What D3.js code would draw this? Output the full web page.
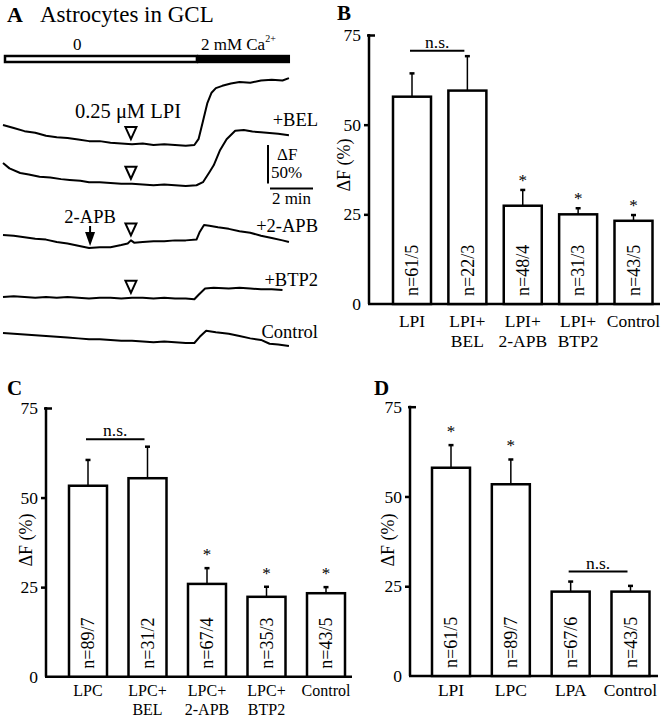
<!DOCTYPE html>
<html lang="en">
<head>
<meta charset="UTF-8">
<title>LPI astrocytes GCL</title>
<style>
  body { margin: 0; background: #fff; }
  svg text { font-family: "Liberation Serif", "DejaVu Serif", serif; }
</style>
</head>
<body>

<div id="viz-wrapper"></div>

<script src="https://cdn.jsdelivr.net/npm/d3@7/dist/d3.min.js"></script>
<script type="text/javascript">
// ---------- panel A: traces, time in min, dF in % relative to trace start
var lpiT = [0,0.5,1,1.5,2,2.5,3,3.5,4,4.5,5,5.5,6,6.5,7,7.5,8,8.5,8.9,9.1,9.3,9.5,9.7,9.9,10.2,10.6,11,11.5,12,12.5,13,13.3];
var lpiV = [0,-4,-8,-10,-14,-16,-17,-19,-21,-21,-23,-24,-25,-24,-26,-25,-26,-27,-26,-18,5,28,42,48,51,54,56,55,58,59,58,61];

var belT = [0,0.3,0.8,1.2,1.7,2.2,2.7,3.1,3.6,4,4.5,5,5.5,6,6.5,7,7.5,8,8.5,9,9.3,9.6,9.8,10.1,10.4,10.8,11.2,11.6,12,12.4,12.8,13.3];
var belV = [0,-7,-13,-15,-18,-19,-21,-22,-23,-25,-25,-26,-27,-27,-28,-29,-28,-29,-30,-29,-25,-12,-3,17,31,42,43,41,40,39,38,36];

var apbT = [0,0.5,1,1.5,2,2.5,3,3.5,4,4.5,5,5.5,5.8,5.95,6.1,6.5,7,7.5,8,8.5,9,9.15,9.35,9.6,10,10.5,11,11.5,12,12.5,13,13.3];
var apbV = [0,-1,-3,-5,-6,-9,-11,-14,-17,-16,-16,-13,-11,-7,-10,-9,-8,-8,-7,-7,-6,4,13,12,10,8,5,3,-1,-4,-7,-9];

var btpT = [0,0.5,1,1.5,2,2.5,3,3.5,4,4.5,5,5.5,6,6.5,7,7.5,8,8.5,8.9,9.1,9.4,9.8,10.5,11,11.5,12,12.5,13];
var btpV = [0,1,0,-1,0,-1,0,-1,-2,-1,-1,-2,-1,-1,-2,-1,-2,-2,-3,3,11,12,11,12,11,10,10,9];

var ctlT = [0,0.5,1,1.5,2,2.5,3,3.5,4,4.5,5,5.5,6,6.5,7,7.5,8,8.5,8.9,9.15,9.45,9.9,10.5,11,11.5,12,12.4,12.8,13.3];
var ctlV = [0,-1,-2,-3,-4,-5,-6,-7,-8,-8,-9,-10,-10,-11,-12,-11,-12,-13,-13,-5,3,1,-1,-4,-7,-9,-14,-15,-17];

var traceLabels = ["", "+BEL", "+2-APB", "+BTP2", "Control"];
var lpiMarkT = 5.95;     // 0.25 uM LPI applied
var apbArrowT = 4.05;    // 2-APB applied
var caSwitchT = 9.02;    // 0 -> 2 mM Ca2+
var recordEndT = 13.35;

// ---------- panel B
var catsB = [["LPI"], ["LPI+", "BEL"], ["LPI+", "2-APB"], ["LPI+", "BTP2"], ["Control"]];
var meanB = [57.8, 59.5, 27.4, 25.0, 23.2];
var semB  = [6.5, 9.6, 4.4, 1.7, 1.6];
var nB    = ["n=61/5", "n=22/3", "n=48/4", "n=31/3", "n=43/5"];
var starB = [false, false, true, true, true];

// ---------- panel C
var catsC = [["LPC"], ["LPC+", "BEL"], ["LPC+", "2-APB"], ["LPC+", "BTP2"], ["Control"]];
var meanC = [53.3, 55.4, 25.9, 22.3, 23.3];
var semC  = [7.2, 8.8, 4.4, 2.8, 1.7];
var nC    = ["n=89/7", "n=31/2", "n=67/4", "n=35/3", "n=43/5"];
var starC = [false, false, true, true, true];

// ---------- panel D
var catsD = [["LPI"], ["LPC"], ["LPA"], ["Control"]];
var meanD = [58.0, 53.4, 23.5, 23.5];
var semD  = [6.3, 6.9, 2.8, 1.6];
var nD    = ["n=61/5", "n=89/7", "n=67/6", "n=43/5"];
var starD = [true, true, false, false];

var yTicks = [0, 25, 50, 75];

var svg = d3.select("#viz-wrapper").append("svg")
    .attr("width", 666)
    .attr("height", 720);

// ================= panel A =================
var xA = d3.scaleLinear().domain([0, 13.3]).range([3, 288.95]);
var dyA = d3.scaleLinear().domain([0, 50]).range([0, -38.4]);
var traceBase = [125, 163, 235, 297, 333];
var traces = [[lpiT, lpiV], [belT, belV], [apbT, apbV], [btpT, btpV], [ctlT, ctlV]];

svg.append("text").attr("x", 7).attr("y", 22)
    .style("font-size", "22px").style("font-weight", "bold").text("A");
svg.append("text").attr("x", 40).attr("y", 22)
    .style("font-size", "23px").text("Astrocytes in GCL");

// solution bar
svg.append("rect")
    .attr("x", xA(0) + 2).attr("y", 56)
    .attr("width", xA(caSwitchT) - xA(0) - 2).attr("height", 6)
    .attr("fill", "#fff").attr("stroke", "#000").attr("stroke-width", 2.5);
svg.append("rect")
    .attr("x", xA(caSwitchT)).attr("y", 54.8)
    .attr("width", xA(recordEndT) - xA(caSwitchT)).attr("height", 8.4)
    .attr("fill", "#000");
svg.append("text").attr("x", xA(3.45)).attr("y", 50).attr("text-anchor", "middle")
    .style("font-size", "17px").text("0");
var caText = svg.append("text").attr("x", xA(caSwitchT) + 4).attr("y", 50)
    .style("font-size", "17px").text("2 mM Ca");
caText.append("tspan").attr("dy", -8).style("font-size", "10px").text("2+");

var line = d3.line()
    .x(function(d) { return xA(d[0]); })
    .y(function(d) { return dyA(d[1]); });

function valueAt(T, V, t) {
    var i = d3.bisectLeft(T, t);
    if (i <= 0) return V[0];
    if (i >= T.length) return V[V.length - 1];
    var f = (t - T[i - 1]) / (T[i] - T[i - 1]);
    return V[i - 1] + f * (V[i] - V[i - 1]);
}

traces.forEach(function(tr, i) {
    var g = svg.append("g").attr("transform", "translate(0," + traceBase[i] + ")");
    var pts = tr[0].map(function(t, k) { return [t, tr[1][k]]; });
    g.append("path").datum(pts)
        .attr("d", line)
        .attr("fill", "none")
        .attr("stroke", "#000")
        .attr("stroke-width", 2)
        .attr("stroke-linejoin", "round");

    // LPI application marker
    if (i < 4) {
        var cx = xA(lpiMarkT);
        var tip = dyA(valueAt(tr[0], tr[1], lpiMarkT)) - 5;
        g.append("path")
            .attr("d", "M" + (cx - 5.5) + "," + (tip - 12) + "L" + (cx + 5.5) + "," + (tip - 12) + "L" + cx + "," + tip + "Z")
            .attr("fill", "#fff").attr("stroke", "#000").attr("stroke-width", 2);
    }
});

// trace labels
var labelY = [0, 126, 232, 286, 338];
traceLabels.forEach(function(l, i) {
    if (!l) return;
    svg.append("text").attr("x", 318).attr("y", labelY[i]).attr("text-anchor", "end")
        .style("font-size", "18.5px").text(l);
});
svg.append("text").attr("x", xA(lpiMarkT) - 3).attr("y", 118).attr("text-anchor", "middle")
    .style("font-size", "20.5px").text("0.25 \u03bcM LPI");

// 2-APB arrow
var ax = xA(apbArrowT);
var arrowTip = traceBase[2] + dyA(valueAt(apbT, apbV, apbArrowT)) - 2;
svg.append("text").attr("x", ax).attr("y", 223).attr("text-anchor", "middle")
    .style("font-size", "18.5px").text("2-APB");
svg.append("line").attr("x1", ax).attr("x2", ax).attr("y1", 226).attr("y2", arrowTip - 8)
    .attr("stroke", "#000").attr("stroke-width", 2);
svg.append("path")
    .attr("d", "M" + (ax - 5) + "," + (arrowTip - 14) + "L" + (ax + 5) + "," + (arrowTip - 14) + "L" + ax + "," + arrowTip + "Z")
    .attr("fill", "#000");

// scale bars
var sbX = 268, sbY = 145;
svg.append("line").attr("x1", sbX).attr("x2", sbX)
    .attr("y1", sbY).attr("y2", sbY - dyA(50))
    .attr("stroke", "#000").attr("stroke-width", 2);
svg.append("line").attr("x1", sbX + 2).attr("x2", sbX + 2 + xA(2) - xA(0))
    .attr("y1", 188.5).attr("y2", 188.5)
    .attr("stroke", "#000").attr("stroke-width", 2);
svg.append("text").attr("x", 277).attr("y", 160).style("font-size", "17px").text("\u0394F");
svg.append("text").attr("x", 271).attr("y", 178).style("font-size", "17px").text("50%");
svg.append("text").attr("x", sbX + 2 + (xA(2) - xA(0)) / 2).attr("y", 204)
    .attr("text-anchor", "middle").style("font-size", "17px").text("2 min");

// ================= bar panels =================
function barPanel(cfg) {
    var y = d3.scaleLinear().domain([0, 75]).range([cfg.y0, cfg.y75]);
    var x = d3.scalePoint().domain(d3.range(cfg.means.length)).range(cfg.xr);
    var bw = 38;
    var g = svg.append("g");

    g.append("text").attr("x", cfg.letter[1]).attr("y", cfg.letter[2])
        .style("font-size", "21px").style("font-weight", "bold").text(cfg.letter[0]);

    // y axis
    var yAxis = d3.axisLeft(y).tickValues(yTicks).tickSize(5).tickPadding(3).tickSizeOuter(0);
    var ya = g.append("g").attr("transform", "translate(" + cfg.ax + ",0)").call(yAxis);
    ya.select(".domain").remove();
    ya.selectAll(".tick line").attr("stroke-width", 2.5);
    ya.selectAll(".tick text").style("font-size", "17.5px").attr("fill", "#000");
    ya.selectAll(".tick").filter(function(d) { return d === 75; })
        .select("line").attr("x1", 6).attr("x2", -2);
    ya.selectAll(".tick").filter(function(d) { return d === 0; }).select("line").remove();
    g.append("line").attr("x1", cfg.ax).attr("x2", cfg.ax)
        .attr("y1", y(75) - 1).attr("y2", y(0))
        .attr("stroke", "#000").attr("stroke-width", 2.5);
    g.append("line").attr("x1", cfg.ax - 1).attr("x2", cfg.xEnd)
        .attr("y1", y(0)).attr("y2", y(0))
        .attr("stroke", "#000").attr("stroke-width", 2.5);

    g.append("text")
        .attr("transform", "translate(" + cfg.lab[0] + "," + cfg.lab[1] + ") rotate(-90)")
        .attr("text-anchor", "middle").attr("dy", "0.35em")
        .style("font-size", "18px").text("\u0394F (%)");

    var bars = g.selectAll("g.bar").data(cfg.means).enter().append("g").attr("class", "bar");

    // error bars
    bars.append("line")
        .attr("x1", function(d, i) { return x(i); })
        .attr("x2", function(d, i) { return x(i); })
        .attr("y1", function(d) { return y(d); })
        .attr("y2", function(d, i) { return y(d + cfg.sem[i]); })
        .attr("stroke", "#000").attr("stroke-width", 1.5);
    bars.append("line")
        .attr("x1", function(d, i) { return x(i) - 2.5; })
        .attr("x2", function(d, i) { return x(i) + 2.5; })
        .attr("y1", function(d, i) { return y(d + cfg.sem[i]); })
        .attr("y2", function(d, i) { return y(d + cfg.sem[i]); })
        .attr("stroke", "#000").attr("stroke-width", 2.5);

    bars.append("rect")
        .attr("x", function(d, i) { return x(i) - bw / 2; })
        .attr("y", function(d) { return y(d); })
        .attr("width", bw)
        .attr("height", function(d) { return y(0) - y(d); })
        .attr("fill", "#fff").attr("stroke", "#000").attr("stroke-width", 2.5);

    // n labels
    bars.append("text")
        .attr("transform", function(d, i) { return "translate(" + x(i) + "," + (y(0) - 8) + ") rotate(-90)"; })
        .attr("dy", "0.35em")
        .style("font-size", "18px")
        .text(function(d, i) { return cfg.n[i]; });

    // stars
    bars.each(function(d, i) {
        if (!cfg.star[i]) return;
        d3.select(this).append("text")
            .attr("x", x(i))
            .attr("y", y(d + cfg.sem[i]) - cfg.starGap)
            .attr("text-anchor", "middle").style("font-size", "17px").text("*");
    });

    // category labels
    cfg.cats.forEach(function(c, i) {
        c.forEach(function(s, k) {
            g.append("text").attr("x", x(i)).attr("y", y(0) + cfg.catDy + k * cfg.catGap)
                .attr("text-anchor", "middle").style("font-size", cfg.catFont + "px").text(s);
        });
    });

    // n.s. bracket
    var ns = cfg.ns;
    var nx1 = x(ns[0]) - 2, nx2 = x(ns[1]) - 3;
    g.append("line").attr("x1", nx1).attr("x2", nx2)
        .attr("y1", y(ns[2])).attr("y2", y(ns[2]))
        .attr("stroke", "#000").attr("stroke-width", 2);
    g.append("text").attr("x", (nx1 + nx2) / 2).attr("y", y(ns[2]) - 3)
        .attr("text-anchor", "middle").style("font-size", "17.5px").text("n.s.");
}

barPanel({ letter: ["B", 337, 20], ax: 369, xEnd: 660, y0: 304, y75: 35, xr: [412, 633.5],
    lab: [344, 165], means: meanB, sem: semB, n: nB, star: starB, cats: catsB,
    starGap: 4, catDy: 23, catGap: 20, catFont: 17.5, ns: [0, 1, 70.6] });
barPanel({ letter: ["C", 7, 395], ax: 46, xEnd: 352, y0: 676.7, y75: 408, xr: [88, 326],
    lab: [26, 540], means: meanC, sem: semC, n: nC, star: starC, cats: catsC,
    starGap: 8, catDy: 19, catGap: 19, catFont: 16, ns: [0, 1, 66.3] });
barPanel({ letter: ["D", 374, 395], ax: 410, xEnd: 658, y0: 676, y75: 406.7, xr: [451, 630.5],
    lab: [388, 540], means: meanD, sem: semD, n: nD, star: starD, cats: catsD,
    starGap: 8, catDy: 20, catGap: 19, catFont: 17.5, ns: [2, 3, 29.1] });
</script>

</body>
</html>
